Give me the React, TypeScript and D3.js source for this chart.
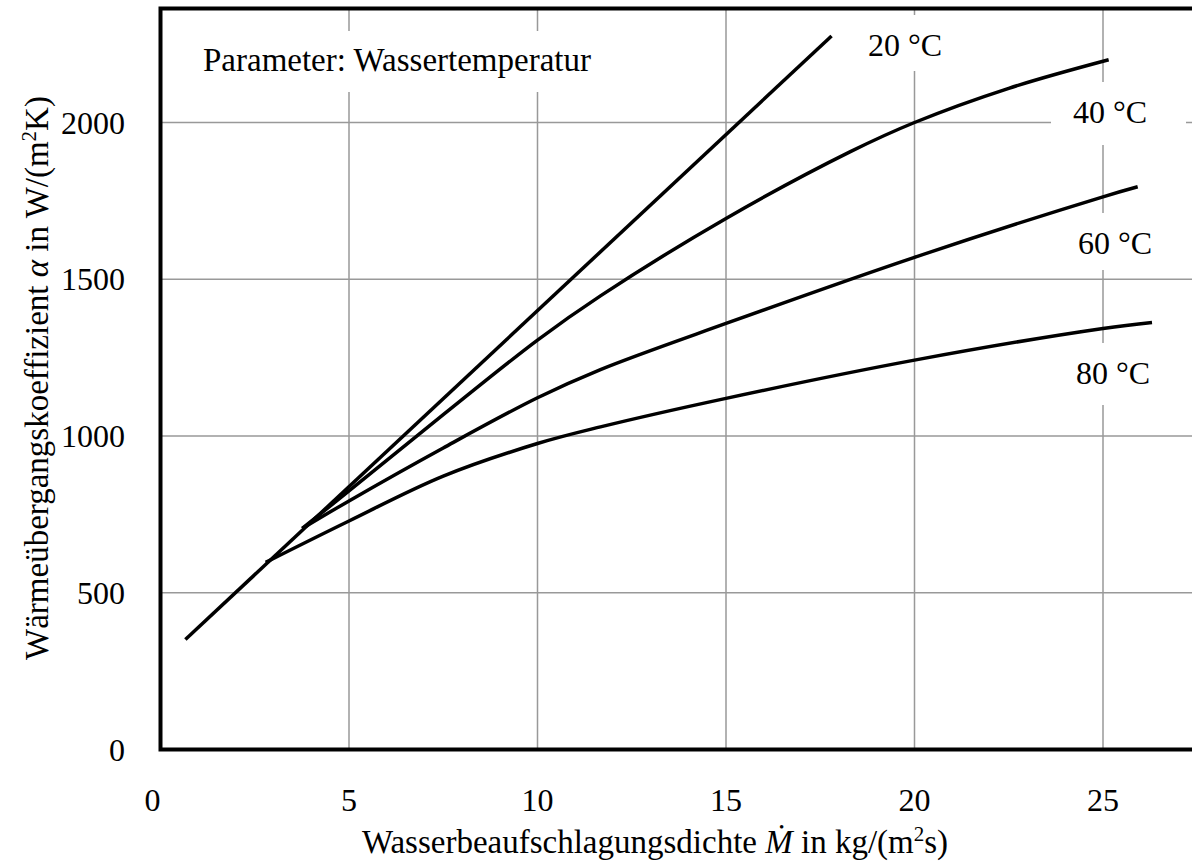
import React, { useEffect, useRef } from 'react';
import * as d3 from 'd3';

// x ticks (kg/(m²s)) and y ticks (W/(m²K))
const xTicks = [0, 5, 10, 15, 20, 25];
const yTicks = [0, 500, 1000, 1500, 2000];

// curves: mass flux M and coefficient alpha
const m20 = [0.66, 17.8];
const a20 = [351, 2276];

const m40 = [3.76, 5, 7.5, 10, 11.67, 15, 18.3, 20, 22.5, 25.15];
const a40 = [705, 825, 1068, 1306, 1447, 1694, 1907, 2000, 2109, 2200];

const m60 = [3.76, 5, 7.5, 10, 11.67, 15, 20, 25, 25.92];
const a60 = [705, 793, 962, 1122, 1212, 1359, 1570, 1763, 1795];

const m80 = [2.79, 5, 7.5, 10, 11.67, 15, 20, 25, 26.3];
const a80 = [597, 729, 872, 976, 1029, 1120, 1242, 1343, 1362];

const seriesNames = ['20 °C', '40 °C', '60 °C', '80 °C'];

const App = () => {
  const svgRef = useRef<SVGSVGElement>(null);

  useEffect(() => {
    const W = 1192, H = 863;
    const svg = d3.select(svgRef.current).attr('width', W).attr('height', H);
    svg.selectAll('*').remove();

    const font = '"Liberation Serif", "Times New Roman", serif';
    const fs = 32;

    const x = d3.scaleLinear().domain([0, 25]).range([160.5, 1103]);
    const y = d3.scaleLinear().domain([0, 2000]).range([749.5, 122.5]);
    const yTop = 8.5;
    const xRight = x(28);

    // grid
    const grid = svg.append('g').attr('stroke', '#999').attr('stroke-width', 1.5);
    grid.selectAll('line.v')
      .data(xTicks.slice(1))
      .enter().append('line')
      .attr('x1', d => x(d)).attr('x2', d => x(d))
      .attr('y1', yTop).attr('y2', y(0));
    grid.selectAll('line.h')
      .data(yTicks.slice(1))
      .enter().append('line')
      .attr('x1', x(0)).attr('x2', xRight)
      .attr('y1', d => y(d)).attr('y2', d => y(d));

    // white label boxes that hide the grid
    const boxes = [
      { x: 190, y: 31, w: 410, h: 61 },
      { x: 860, y: 15, w: 90, h: 56 },
      { x: 1051, y: 82, w: 135, h: 63 },
      { x: 1058, y: 213, w: 120, h: 57 },
      { x: 1058, y: 343, w: 120, h: 62 },
    ];
    svg.selectAll('rect.box')
      .data(boxes)
      .enter().append('rect')
      .attr('x', d => d.x).attr('y', d => d.y)
      .attr('width', d => d.w).attr('height', d => d.h)
      .attr('fill', 'white');

    // frame
    svg.append('path')
      .attr('d', `M${xRight},${yTop} H${x(0)} V${y(0)} H${xRight}`)
      .attr('fill', 'none')
      .attr('stroke', 'black')
      .attr('stroke-width', 4);

    // curves
    const line = d3.line<[number, number]>()
      .x(d => x(d[0]))
      .y(d => y(d[1]))
      .curve(d3.curveCatmullRom.alpha(0.5));

    const series = [
      d3.zip(m20, a20),
      d3.zip(m40, a40),
      d3.zip(m60, a60),
      d3.zip(m80, a80),
    ] as [number, number][][];

    svg.selectAll('path.curve')
      .data(series)
      .enter().append('path')
      .attr('class', 'curve')
      .attr('d', d => line(d))
      .attr('fill', 'none')
      .attr('stroke', 'black')
      .attr('stroke-width', 3.5);

    // series labels
    const labelPos = [
      { x: 905, y: 56 },
      { x: 1110, y: 123 },
      { x: 1115, y: 254 },
      { x: 1113, y: 384 },
    ];
    svg.selectAll('text.lab')
      .data(seriesNames)
      .enter().append('text')
      .attr('x', (d, i) => labelPos[i].x)
      .attr('y', (d, i) => labelPos[i].y)
      .attr('text-anchor', 'middle')
      .attr('font-family', font)
      .attr('font-size', fs)
      .text(d => d);

    svg.append('text')
      .attr('x', 203).attr('y', 71)
      .attr('font-family', font)
      .attr('font-size', 33)
      .text('Parameter: Wassertemperatur');

    // tick labels
    svg.selectAll('text.xt')
      .data(xTicks)
      .enter().append('text')
      .attr('x', d => (d === 0 ? x(d) - 8 : x(d)))
      .attr('y', 811)
      .attr('text-anchor', 'middle')
      .attr('font-family', font)
      .attr('font-size', fs)
      .text(d => d);

    svg.selectAll('text.yt')
      .data(yTicks)
      .enter().append('text')
      .attr('x', 125)
      .attr('y', d => y(d) + 11)
      .attr('text-anchor', 'end')
      .attr('font-family', font)
      .attr('font-size', fs)
      .text(d => d);

    // axis titles
    const xt = svg.append('text')
      .attr('x', 655).attr('y', 853)
      .attr('text-anchor', 'middle')
      .attr('font-family', font)
      .attr('font-size', 33);
    xt.append('tspan').text('Wasserbeaufschlagungsdichte ');
    xt.append('tspan').attr('font-style', 'italic').text('Ṁ');
    xt.append('tspan').text(' in kg/(m');
    xt.append('tspan').attr('font-size', 21).attr('dy', -12).text('2');
    xt.append('tspan').attr('dy', 12).text('s)');

    const yt = svg.append('text')
      .attr('transform', 'translate(48,378) rotate(-90)')
      .attr('text-anchor', 'middle')
      .attr('font-family', font)
      .attr('font-size', 33);
    yt.append('tspan').text('Wärmeübergangskoeffizient ');
    yt.append('tspan').attr('font-style', 'italic').text('α');
    yt.append('tspan').text(' in W/(m');
    yt.append('tspan').attr('font-size', 21).attr('dy', -12).text('2');
    yt.append('tspan').attr('dy', 12).text('K)');

    return () => {
      d3.select(svgRef.current).selectAll('*').remove();
    };
  }, []);

  return (
    <svg ref={svgRef} style={{ position: 'absolute', left: 0, top: 0, background: 'white' }}></svg>
  );
};

export default App;
